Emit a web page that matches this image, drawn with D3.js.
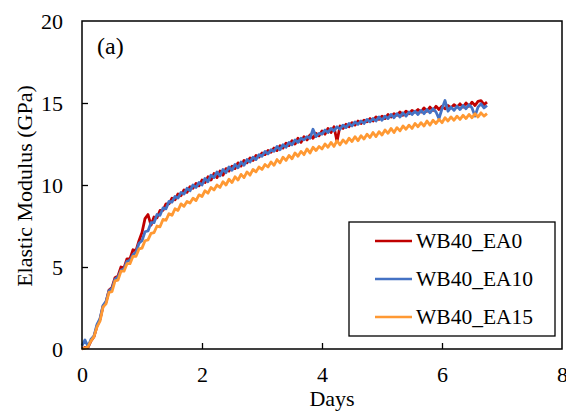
<!DOCTYPE html>
<html><head><meta charset="utf-8">
<script src="https://cdn.jsdelivr.net/npm/d3@7"></script>
<style>
html,body{margin:0;padding:0;background:#fff;}
svg text{font-family:"Liberation Serif","Times New Roman","DejaVu Serif",serif !important;fill:#000;}
</style></head>
<body><svg id="chart" width="566" height="412"></svg>
<script>
const days = [0,0.05,0.1,0.15,0.2,0.25,0.3,0.35,0.4,0.45,0.5,0.55,0.6,0.65,0.7,0.75,0.8,0.85,0.9,0.95,
1,1.05,1.1,1.15,1.2,1.25,1.3,1.35,1.4,1.45,1.5,1.55,1.6,1.65,1.7,1.75,1.8,1.85,1.9,1.95,
2,2.05,2.1,2.15,2.2,2.25,2.3,2.35,2.4,2.45,2.5,2.55,2.6,2.65,2.7,2.75,2.8,2.85,2.9,2.95,
3,3.05,3.1,3.15,3.2,3.25,3.3,3.35,3.4,3.45,3.5,3.55,3.6,3.65,3.7,3.75,3.8,3.85,3.9,3.95,
4,4.05,4.1,4.15,4.2,4.25,4.3,4.35,4.4,4.45,4.5,4.55,4.6,4.65,4.7,4.75,4.8,4.85,4.9,4.95,
5,5.05,5.1,5.15,5.2,5.25,5.3,5.35,5.4,5.45,5.5,5.55,5.6,5.65,5.7,5.75,5.8,5.85,5.9,5.95,
6,6.05,6.1,6.15,6.2,6.25,6.3,6.35,6.4,6.45,6.5,6.55,6.6,6.65,6.7,6.75];

const ea0 = [0,0.1,0.1,0.5,0.75,1.4,1.8,2.6,2.85,3.6,3.75,4.35,4.45,5.0,4.95,5.5,5.5,6.05,6.0,6.6,
7.1,7.95,8.2,7.55,8.05,8.0,8.45,8.45,8.85,8.85,9.2,9.1,9.45,9.35,9.7,9.55,9.9,9.8,10.1,9.95,
10.3,10.15,10.5,10.3,10.7,10.45,10.85,10.6,11.0,10.85,11.15,11.0,11.35,11.15,11.5,11.35,11.65,11.5,11.8,11.7,
11.95,11.85,12.1,12.0,12.25,12.1,12.4,12.25,12.55,12.4,12.7,12.5,12.85,12.6,12.95,12.75,13.05,12.85,13.15,13.0,
13.3,13.1,13.45,13.2,13.55,12.65,13.6,13.45,13.7,13.55,13.8,13.65,13.9,13.75,13.95,13.85,14.05,13.9,14.15,14.0,
14.2,14.05,14.3,14.15,14.35,14.25,14.45,14.25,14.5,14.35,14.55,14.45,14.6,14.45,14.7,14.5,14.75,14.55,14.8,14.6,
14.8,14.65,14.85,14.7,14.9,14.75,14.95,14.75,15.0,14.8,15.05,14.85,15.1,15.15,14.9,15.05];

const ea10 = [0.2,0.55,0.15,0.6,0.8,1.5,1.85,2.65,2.9,3.55,3.7,4.25,4.4,4.8,4.9,5.35,5.4,5.75,5.9,6.45,
6.6,7.15,7.2,7.7,7.7,8.2,8.15,8.6,8.55,9.0,8.95,9.3,9.2,9.55,9.45,9.8,9.65,10.0,9.85,10.15,
10.0,10.4,10.2,10.6,10.45,10.8,10.55,10.95,10.75,11.1,10.9,11.25,11.05,11.4,11.2,11.55,11.4,11.7,11.55,11.85,
11.75,12.05,11.9,12.15,12.05,12.35,12.15,12.45,12.3,12.6,12.45,12.75,12.6,12.85,12.75,12.95,12.85,13.4,12.95,13.15,
13.1,13.35,13.2,13.45,13.3,13.55,13.4,13.65,13.5,13.75,13.6,13.85,13.7,13.9,13.75,14.0,13.85,14.05,13.9,14.15,
13.95,14.2,14.05,14.3,14.1,14.35,14.15,14.4,14.2,14.45,14.3,14.5,14.3,14.55,14.35,14.6,14.4,14.65,14.45,14.05,
14.65,15.15,14.5,14.75,14.55,14.8,14.6,14.85,14.65,14.9,14.7,14.2,14.75,14.95,14.7,14.85];

const ea15 = [0,0.05,0.15,0.5,0.75,1.35,1.7,2.55,2.75,3.45,3.5,4.15,4.2,4.75,4.75,5.2,5.2,5.65,5.65,6.1,
6.15,6.6,6.65,7.05,7.1,7.5,7.45,7.9,7.85,8.25,8.15,8.55,8.45,8.85,8.7,9.0,8.9,9.2,9.05,9.4,
9.3,9.65,9.5,9.85,9.7,10.0,9.85,10.2,10.0,10.35,10.15,10.5,10.3,10.65,10.45,10.8,10.6,10.95,10.8,11.1,
10.95,11.25,11.1,11.4,11.2,11.55,11.35,11.7,11.5,11.8,11.6,11.95,11.75,12.05,11.85,12.2,11.95,12.3,12.1,12.35,
12.2,12.5,12.3,12.6,12.35,12.7,12.45,12.75,12.55,12.85,12.65,12.95,12.7,13.0,12.8,13.1,12.9,13.2,12.95,13.25,
13.05,13.35,13.15,13.45,13.2,13.5,13.3,13.6,13.4,13.65,13.45,13.75,13.55,13.8,13.6,13.9,13.65,13.95,13.75,14.0,
13.8,14.1,13.9,14.15,13.95,14.2,14.0,14.25,14.05,14.3,14.1,14.35,14.15,14.4,14.2,14.35];

const seriesNames = ["WB40_EA0","WB40_EA10","WB40_EA15"];
const seriesColors = ["#C00000","#4472C4","#FF9933"];
const seriesValues = [ea0, ea10, ea15];
const xTicks = [0,2,4,6,8];
const yTicks = [0,5,10,15,20];
const xTitle = "Days";
const yTitle = "Elastic Modulus (GPa)";
const panelLabel = "(a)";

const FONT = '"Liberation Serif","Times New Roman","DejaVu Serif",serif';
const svg = d3.select("#chart");
const m = {left:82, right:562, top:21, bottom:349};
const x = d3.scaleLinear().domain([0,8]).range([m.left, m.right]);
const y = d3.scaleLinear().domain([0,20]).range([m.bottom, m.top]);

// series
const line = d3.line().x((d,i)=>x(days[i])).y(d=>y(d));
seriesValues.forEach((vals,k)=>{
  svg.append("path").datum(vals)
    .attr("d", line)
    .attr("fill","none")
    .attr("stroke", seriesColors[k])
    .attr("stroke-width", 2.8)
    .attr("stroke-linejoin","round");
});

// axes (ticks inward)
const gx = svg.append("g").attr("transform",`translate(0,${m.bottom})`)
  .call(d3.axisBottom(x).tickValues(xTicks).tickSize(-6).tickPadding(17).tickFormat(d3.format("d")));
const gy = svg.append("g").attr("transform",`translate(${m.left},0)`)
  .call(d3.axisLeft(y).tickValues(yTicks).tickSize(-6).tickPadding(19).tickFormat(d3.format("d")));
[gx,gy].forEach(g=>{
  g.attr("font-family", FONT);
  g.select(".domain").remove();
  g.selectAll(".tick line").attr("stroke","#000").attr("stroke-width",1.3);
  g.selectAll(".tick text").attr("font-size",22).style("font-family",FONT).attr("fill","#000");
});
gx.selectAll(".tick line").filter(d=>d===0||d===8).remove();
gy.selectAll(".tick line").filter(d=>d===0||d===20).remove();

// frame
svg.append("rect").attr("x",m.left).attr("y",m.top)
  .attr("width",m.right-m.left).attr("height",m.bottom-m.top)
  .attr("fill","none").attr("stroke","#000").attr("stroke-width",1.5);

// titles
svg.append("text").attr("x",332).attr("y",406)
  .attr("text-anchor","middle").attr("font-size",22).style("font-family",FONT).text(xTitle);
svg.append("text").attr("transform",`translate(32,${(m.top+m.bottom)/2+1}) rotate(-90)`)
  .attr("text-anchor","middle").attr("font-size",22).style("font-family",FONT).text(yTitle);
svg.append("text").attr("x",97).attr("y",54).attr("font-size",24).style("font-family",FONT).text(panelLabel);

// legend
const lg = svg.append("g");
lg.append("rect").attr("x",349).attr("y",222).attr("width",206).attr("height",114)
  .attr("fill","#fff").attr("stroke","#000").attr("stroke-width",1.3);
seriesNames.forEach((n,k)=>{
  const cy = 241 + k*38;
  lg.append("line").attr("x1",375).attr("x2",412).attr("y1",cy).attr("y2",cy)
    .attr("stroke",seriesColors[k]).attr("stroke-width",2.5);
  lg.append("text").attr("x",416).attr("y",cy+7).attr("font-size",21.5).style("font-family",FONT).text(n);
});
</script></body></html>
